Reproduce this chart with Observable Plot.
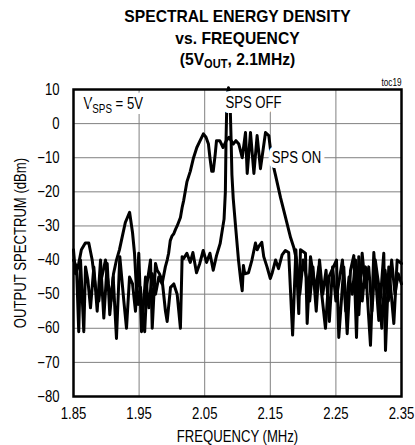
<!DOCTYPE html>
<html><head><meta charset="utf-8">
<script src="https://cdn.jsdelivr.net/npm/d3@7"></script>
<script src="https://cdn.jsdelivr.net/npm/@observablehq/plot@0.6"></script>
<style>
body{margin:0;background:#fff;}
#wrap{position:relative;width:415px;height:445px;font-family:"Liberation Sans",Arial,sans-serif;color:#000;}
#title{position:absolute;left:60px;top:6px;width:355px;text-align:center;font-weight:bold;font-size:17px;line-height:21.5px;transform:scaleX(0.92);transform-origin:center top;}
#title sub{font-size:12px;vertical-align:-3px;line-height:0;}
#chart{position:absolute;left:0;top:72px;}
</style>
</head><body>
<div id="wrap">
<div id="title">SPECTRAL ENERGY DENSITY<br>vs. FREQUENCY<br>(5V<sub>OUT</sub>, 2.1MHz)</div>
<div id="chart"></div>
</div>
<script>
const FONT = '"Liberation Sans",Arial,sans-serif';
const xTicks = [1.85, 1.95, 2.05, 2.15, 2.25, 2.35];
const xGrid = [1.95, 2.05, 2.15, 2.25];
const yTicks = [10, 0, -10, -20, -30, -40, -50, -60, -70, -80];
const yGrid = [0, -10, -20, -30, -40, -50, -60, -70];

// SPS OFF trace
const offFreq = [1.850,1.853,1.857,1.862,1.868,1.8733,1.8785,1.8835,1.8886,1.892,1.8988,1.903,1.907,1.911,1.9155,1.920,1.9245,1.929,1.9355,1.940,1.943,1.9455,1.9485,1.952,1.955,1.9585,1.962,1.9674,1.970,1.975,1.9776,1.981,1.9852,1.9902,1.9928,1.9979,2.0029,2.008,2.013,2.0156,2.0177,2.0228,2.028,2.032,2.0375,2.0425,2.0477,2.0528,2.058,2.063,2.068,2.0735,2.0795,2.0815,2.0825,2.0835,2.085,2.0863,2.0878,2.089,2.0903,2.0915,2.0935,2.097,2.1015,2.105,2.1072,2.109,2.111,2.1168,2.122,2.1274,2.130,2.1325,2.137,2.140,2.145,2.150,2.153,2.158,2.1625,2.168,2.173,2.178,2.184,2.189,2.1934,2.196,2.2036,2.2062,2.2113,2.2189,2.2239,2.2341,2.2392,2.2509,2.2544,2.262,2.2672,2.2723,2.2773,2.2814,2.2849,2.2901,2.2951,2.3027,2.3078,2.3154,2.323,2.3256,2.3306,2.3383,2.3434,2.350];
const offDb = [-37,-44,-42,-37,-35,-35,-40,-48,-52,-46,-40,-47,-52,-44,-40,-37,-33,-29,-26,-32,-38,-47,-53,-48,-55,-61,-47,-40,-60,-41,-43,-44,-46,-55,-58,-48,-47,-50,-60,-39,-39.6,-38,-40.7,-37.8,-43.7,-41,-37.2,-40.7,-38,-43,-38.7,-35.2,-28,-20,-5,4,9,10.5,9,4,-5,-15,-22,-30,-40,-46,-49,-41.6,-44,-43.7,-40,-35,-37,-36,-34.8,-39,-42,-45.4,-43.7,-40,-42.5,-38.5,-37.2,-37.8,-62,-37,-55.7,-37,-38,-58.6,-39,-49,-42,-60,-45,-40,-62.7,-42,-61.6,-43,-38.7,-62.7,-39,-52,-42,-65,-37.8,-57.7,-38,-66.5,-42,-58.6,-40,-41];

// SPS ON trace
const onFreq = [1.850,1.8546,1.858,1.8607,1.8657,1.8683,1.872,1.8759,1.881,1.8861,1.8912,1.8962,1.9014,1.9053,1.9105,1.9155,1.9206,1.9267,1.9308,1.9354,1.940,1.9445,1.9495,1.9537,1.9598,1.9648,1.970,1.975,1.980,1.985,1.990,1.9928,1.995,1.9975,2.000,2.0029,2.0055,2.008,2.013,2.0156,2.018,2.023,2.028,2.033,2.038,2.043,2.048,2.052,2.0557,2.058,2.0607,2.063,2.066,2.068,2.073,2.078,2.083,2.087,2.0935,2.0976,2.102,2.1072,2.1122,2.1148,2.1198,2.125,2.1299,2.135,2.1427,2.1477,2.1518,2.158,2.1656,2.1732,2.1809,2.1858,2.190,2.195,2.200,2.205,2.210,2.215,2.220,2.225,2.230,2.235,2.240,2.245,2.250,2.255,2.260,2.265,2.270,2.275,2.280,2.285,2.290,2.295,2.300,2.305,2.310,2.315,2.320,2.325,2.330,2.335,2.340,2.345,2.350];
const onDb = [-40,-42,-61,-40,-61,-42,-46,-54,-42,-55,-40,-57,-41,-56,-45,-63,-39,-52,-60,-45,-47,-55,-38,-61,-45,-54,-44,-50,-45,-47,-42,-40,-38,-34.3,-33,-32.3,-31,-30,-27.5,-24.6,-22.5,-17,-14,-10,-7,-5,-3,-4,-6,-10,-14,-14,-9,-5,-5,-7,-5,-4,-6,-5,-6,-10,-2.6,-14.6,-2.6,-14.6,-3.5,-13.2,-2.6,-3.5,-10,-15.2,-21.7,-27.5,-33.4,-36.3,-40,-50,-40,-45,-52,-42,-55,-40,-50,-43,-58,-42,-52,-46,-40,-55,-45,-50,-40,-56,-38,-48,-42,-55,-40,-47,-60,-43,-52,-40,-50,-44,-47];

const off = offFreq.map((f, i) => ({f, db: offDb[i]}));
const on = onFreq.map((f, i) => ({f, db: onDb[i]}));

const labelStyle = {fill: "#000", stroke: "#fff", strokeWidth: 10, fontSize: 16, frameAnchor: "top-left", lineAnchor: "middle"};

const chart = Plot.plot({
  width: 415, height: 373,
  marginTop: 17, marginLeft: 73, marginRight: 14, marginBottom: 49,
  style: {fontFamily: FONT, fontSize: "16px", color: "#000", background: "#fff", overflow: "visible"},
  x: {domain: [1.85, 2.35], ticks: xTicks, tickFormat: d3.format(".2f"), tickSize: 0, tickPadding: 11, label: null},
  y: {domain: [-80, 10], ticks: yTicks, tickSize: 0, tickPadding: 14, label: null},
  marks: [
    Plot.gridX(xGrid, {stroke: "#808080", strokeOpacity: 1, strokeWidth: 1}),
    Plot.gridY(yGrid, {stroke: "#808080", strokeOpacity: 1, strokeWidth: 1}),
    Plot.line(on, {x: "f", y: "db", stroke: "#000", strokeWidth: 3, strokeLinejoin: "round"}),
    Plot.line(off, {x: "f", y: "db", stroke: "#000", strokeWidth: 3, strokeLinejoin: "round"}),
    Plot.text(["VSPS = 5V"], {...labelStyle, text: d => d, dx: 10, dy: 14, textAnchor: "start"}),
    Plot.text(["SPS OFF"], {...labelStyle, text: d => d, dx: 180, dy: 13, textAnchor: "middle"}),
    Plot.text(["SPS ON"], {...labelStyle, text: d => d, dx: 223, dy: 68, textAnchor: "middle"}),
    Plot.text(["toc19"], {text: d => d, frameAnchor: "top-right", lineAnchor: "middle", dy: -7, textAnchor: "end", fontSize: 10, fill: "#000"}),
    Plot.text(["FREQUENCY (MHz)"], {text: d => d, frameAnchor: "bottom", lineAnchor: "middle", textAnchor: "middle", dy: 40, fontSize: 16, fill: "#000"}),
    Plot.text(["OUTPUT SPECTRUM (dBm)"], {text: d => d, frameAnchor: "left", lineAnchor: "middle", textAnchor: "middle", dx: -53, rotate: -90, fontSize: 16, fill: "#000"}),
    Plot.frame({stroke: "#000", strokeWidth: 2.5})
  ]
});
document.getElementById("chart").appendChild(chart);

// subscript for V_SPS
d3.select(chart).selectAll("text").filter(function() { return this.textContent === "VSPS = 5V"; })
  .each(function() {
    const t = d3.select(this);
    t.text(null);
    t.append("tspan").text("V");
    t.append("tspan").attr("font-size", 12).attr("dy", 4).text("SPS");
    t.append("tspan").attr("dy", -4).text(" = 5V");
  });

// narrow the text horizontally (the reference uses a condensed face)
d3.select(chart).selectAll("text").each(function() {
  const t = d3.select(this);
  let tr = t.attr("transform");
  if (!tr) {
    const x = +t.attr("x") || 0;
    t.attr("x", null);
    tr = `translate(${x},0)`;
  }
  t.attr("transform", tr + " scale(0.82,1)");
});
</script>
</body></html>
